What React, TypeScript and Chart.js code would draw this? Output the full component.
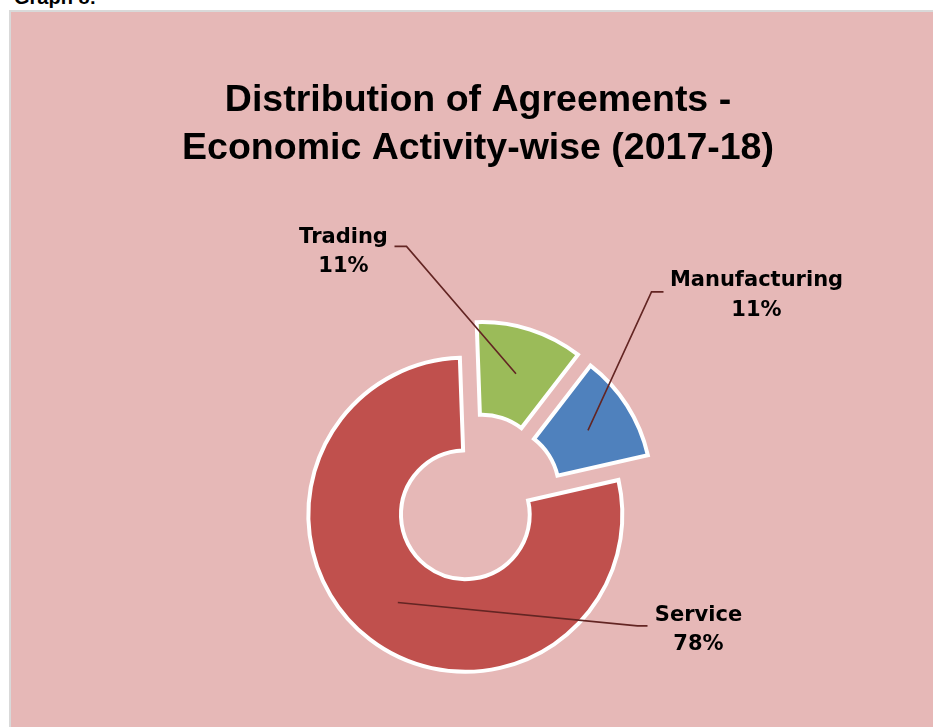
import React, { useEffect, useRef } from 'react';
import { Chart, registerables } from 'chart.js';

Chart.register(...registerables);

// ---- data ----
const categories: string[] = ['Trading', 'Manufacturing', 'Service'];
const shares: number[] = [11, 11, 78];
const titleLines: string[] = ['Distribution of Agreements -', 'Economic Activity-wise (2017-18)'];

// ---- styles ----
const sliceColors = ['#9BBB59', '#4F81BD', '#C0504D'];
const explodeDist = [25, 24, 15];
const pieShift = [-3.5, 0];
const leaderColor = '#632523';
// label layout, relative to the pie centre
const labelLayout = [
  { elbow: [-68, -256.5], end: [-80, -256.5], tx: -131, ty: [-260, -231] },
  { elbow: [177, -211], end: [189, -211], tx: 282, ty: [-217, -187] },
  { elbow: [163, 123], end: [173, 123], tx: 224, ty: [118, 147] },
];

const centreOf = (chart: any) => {
  const ca = chart.chartArea;
  return { cx: (ca.left + ca.right) / 2 + pieShift[0], cy: (ca.top + ca.bottom) / 2 + pieShift[1] };
};

const explodePlugin = {
  id: 'explodeSlices',
  afterDatasetsUpdate(chart: any) {
    const meta = chart.getDatasetMeta(0);
    const { cx, cy } = centreOf(chart);
    meta.data.forEach((arc: any, i: number) => {
      const mid = (arc.startAngle + arc.endAngle) / 2;
      arc.x = cx + Math.cos(mid) * explodeDist[i];
      arc.y = cy + Math.sin(mid) * explodeDist[i];
    });
  },
};

const labelPlugin = {
  id: 'leaderLabels',
  afterDatasetsDraw(chart: any) {
    const meta = chart.getDatasetMeta(0);
    const { cx, cy } = centreOf(chart);
    const ctx = chart.ctx as CanvasRenderingContext2D;
    meta.data.forEach((arc: any, i: number) => {
      const mid = (arc.startAngle + arc.endAngle) / 2;
      const r = (arc.innerRadius + arc.outerRadius) / 2;
      const ax = arc.x + Math.cos(mid) * r;
      const ay = arc.y + Math.sin(mid) * r;
      const L = labelLayout[i];
      ctx.save();
      ctx.strokeStyle = leaderColor;
      ctx.lineWidth = 1.6;
      ctx.beginPath();
      ctx.moveTo(ax, ay);
      ctx.lineTo(cx + L.elbow[0], cy + L.elbow[1]);
      ctx.lineTo(cx + L.end[0], cy + L.end[1]);
      ctx.stroke();
      ctx.fillStyle = '#000';
      ctx.font = 'bold 21px "DejaVu Sans"';
      ctx.textAlign = 'center';
      ctx.textBaseline = 'alphabetic';
      ctx.fillText(categories[i], cx + L.tx, cy + L.ty[0]);
      ctx.fillText(`${shares[i]}%`, cx + L.tx, cy + L.ty[1]);
      ctx.restore();
    });
  },
};

export default function App() {
  const ref = useRef<HTMLCanvasElement | null>(null);

  useEffect(() => {
    if (!ref.current) return;
    const chart = new Chart(ref.current, {
      type: 'doughnut',
      data: {
        labels: categories,
        datasets: [
          {
            data: shares,
            backgroundColor: sliceColors,
            borderColor: '#FFFFFF',
            borderWidth: 4,
            borderJoinStyle: 'miter',
            radius: 157,
          } as any,
        ],
      },
      options: {
        responsive: false,
        animation: false,
        cutout: '41%',
        rotation: -2,
        layout: { padding: 0 },
        plugins: {
          legend: { display: false },
          tooltip: { enabled: false },
          title: {
            display: true,
            text: titleLines,
            color: '#000',
            font: { family: '"Liberation Sans", Arial, sans-serif', weight: 'bold', size: 37.5, lineHeight: 1.29 },
            padding: { top: 64, bottom: 0 },
          },
        },
      } as any,
      plugins: [explodePlugin, labelPlugin],
    });
    return () => chart.destroy();
  }, []);

  return (
    <div style={{ position: 'fixed', left: 0, top: 0, width: 933, height: 727, overflow: 'hidden', background: '#fff' }}>
      <div
        style={{
          position: 'absolute',
          left: 14,
          top: -13,
          font: 'bold 20px "Liberation Sans", Arial, sans-serif',
          lineHeight: '20px',
          color: '#000',
          whiteSpace: 'nowrap',
        }}
      >
        Graph 8:
      </div>
      <div
        style={{
          position: 'absolute',
          left: 9,
          top: 10,
          width: 940,
          height: 900,
          border: '2px solid #D9D9D9',
          background: '#E6B8B7',
        }}
      >
        <canvas ref={ref} width={934} height={821} style={{ display: 'block' }} />
      </div>
    </div>
  );
}
